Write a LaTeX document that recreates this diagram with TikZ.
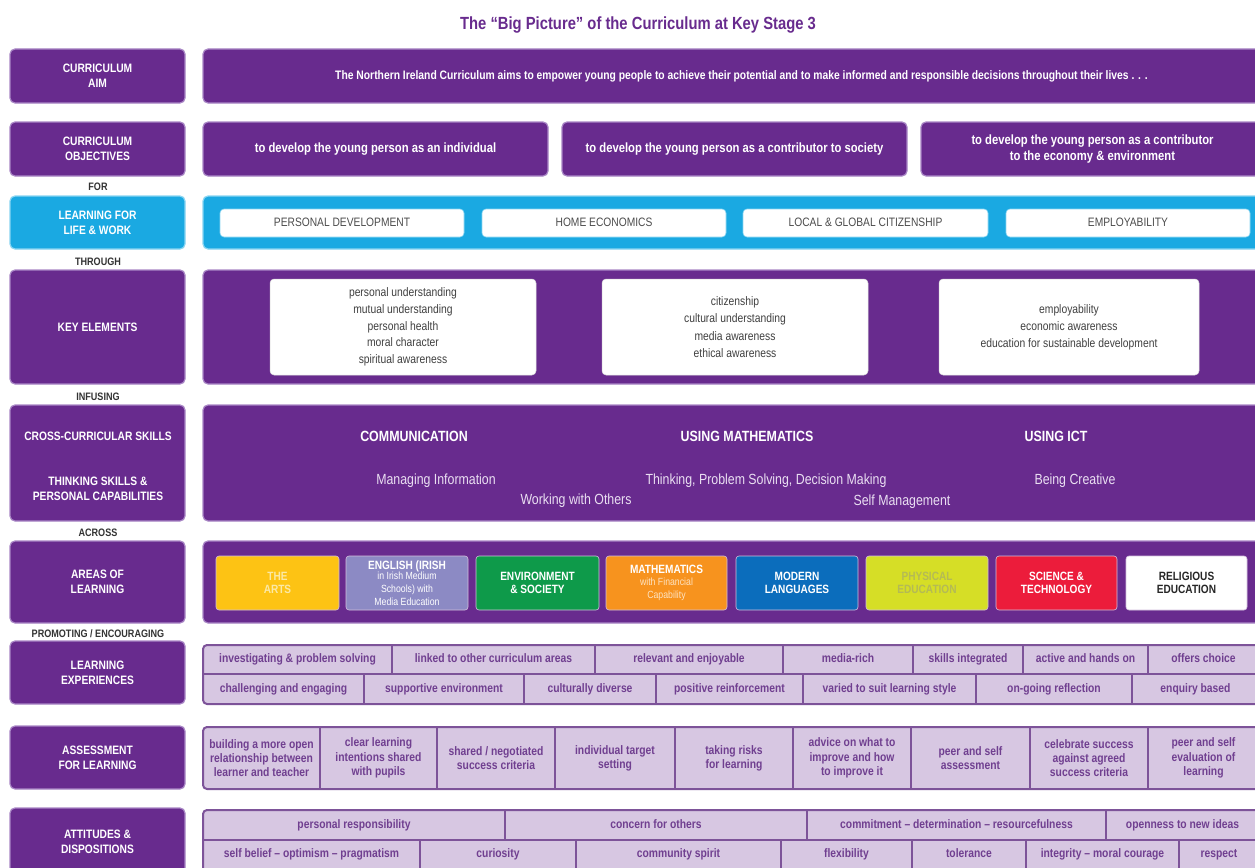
\documentclass[tikz,border=0pt]{standalone}
\usepackage{fontspec}
\setmainfont{Liberation Sans}[FakeStretch=0.84]
\definecolor{pur}{HTML}{682B8E}
\definecolor{purEdge}{HTML}{A987C6}
\definecolor{cyanbox}{HTML}{1AA9E2}
\definecolor{cyanEdge}{HTML}{8AD5F2}
\definecolor{cellfill}{HTML}{D7C7E2}
\definecolor{celldraw}{HTML}{7D5399}
\definecolor{celltext}{HTML}{703F90}
\definecolor{linkword}{HTML}{333333}
\definecolor{arts}{HTML}{FDC314}
\definecolor{artstext}{HTML}{FBE9A6}
\definecolor{english}{HTML}{8C8AC4}
\definecolor{envir}{HTML}{0E9A4A}
\definecolor{maths}{HTML}{F7931E}
\definecolor{mathsub}{HTML}{FDE3C2}
\definecolor{modlang}{HTML}{0B6DBC}
\definecolor{phys}{HTML}{D6DE26}
\definecolor{phystext}{HTML}{B4BA55}
\definecolor{science}{HTML}{EC1C3B}
\definecolor{skilltext}{HTML}{EADFF2}
\newcommand\setfs[2]{\fontsize{#1}{#2}\selectfont}
\newcommand\subfnt{\mdseries\setfs{10.4}{11.4}}
% box from corners: [style]{x1}{y1}{x2}{y2}{name}{text}
\newcommand\mkbox[7][]{\node[#1, anchor=north west, minimum width={(#4-#2)*1pt}, minimum height={(#5-#3)*1pt}] (#6) at (#2,#3) {#7};}
\tikzset{
  base/.style={inner sep=0pt, outer sep=0pt, align=center},
  purbox/.style={base, rounded corners=5pt, fill=pur, draw=purEdge, line width=1.2pt, text=white},
  cyanbx/.style={base, rounded corners=5pt, fill=cyanbox, draw=cyanEdge, line width=1.2pt, text=white},
  lab/.style={font=\bfseries\setfs{12.2}{15}},
  whitebox/.style={base, rounded corners=4pt, fill=white, draw=white!85!black, line width=0.5pt, text=black!75, font=\setfs{12.3}{13}},
  lifebox/.style={base, rounded corners=4pt, fill=white, draw=cyanEdge, line width=0.6pt, text=black!70, font=\setfs{12.2}{13}, text height=9pt, text depth=2.5pt},
  area/.style={base, rounded corners=3pt, line width=0.6pt, draw=white!70!pur, font=\bfseries\setfs{12}{13}},
  cell/.style={base, fill=cellfill, draw=celldraw, line width=1.1pt, text=celltext, font=\bfseries\setfs{12.3}{14.2}},
  onecell/.style={cell, text height=9pt, text depth=2.5pt},
  linkw/.style={base, text=linkword, font=\bfseries\setfs{10.8}{12}},
  skill/.style={base, text=white, font=\bfseries\setfs{14.8}{16}},
  capline/.style={base, text=skilltext, font=\setfs{14.7}{16}},
  tborder/.style={rounded corners=4pt, draw=celldraw, line width=2pt}
}
\begin{document}
\begin{tikzpicture}[x=1pt,y=-1pt]
\useasboundingbox (0,0) rectangle (1255,867);
\fill[white] (0,0) rectangle (1255,867);

% title
\node[base, text=pur, font=\bfseries\setfs{17.6}{19}] (title) at (638,25) {The “Big Picture” of the Curriculum at Key Stage 3};

% row 1: aim
\mkbox[purbox, lab]{10}{49}{185}{103}{aimL}{CURRICULUM\\AIM}
\mkbox[purbox, font=\bfseries\setfs{12.3}{14}]{203}{49}{1264}{103}{aimR}{\hspace*{16pt}The Northern Ireland Curriculum aims to empower young people to achieve their potential and to make informed and responsible decisions throughout their lives . . .}

% row 2: objectives
\mkbox[purbox, lab]{10}{122}{185}{176}{objL}{CURRICULUM\\OBJECTIVES}
\mkbox[purbox, font=\bfseries\setfs{13.4}{15.5}]{203}{122}{548}{176}{obj1}{to develop the young person as an individual}
\mkbox[purbox, font=\bfseries\setfs{13.4}{15.5}]{562}{122}{907}{176}{obj2}{to develop the young person as a contributor to society}
\mkbox[purbox, font=\bfseries\setfs{13.4}{15.5}]{921}{122}{1264}{176}{obj3}{to develop the young person as a contributor\\to the economy \& environment}

\node[linkw] (wFor) at (98,187) {FOR};

% row 3: learning for life and work
\mkbox[cyanbx, lab]{10}{196}{185}{249}{lflwL}{LEARNING FOR\\LIFE \& WORK}
\mkbox[cyanbx]{203}{196}{1264}{249}{lflwR}{}
\mkbox[lifebox]{220}{209}{464}{237}{pd}{PERSONAL DEVELOPMENT}
\mkbox[lifebox]{482}{209}{726}{237}{he}{HOME ECONOMICS}
\mkbox[lifebox]{743}{209}{988}{237}{lgc}{LOCAL \& GLOBAL CITIZENSHIP}
\mkbox[lifebox]{1006}{209}{1250}{237}{emp}{EMPLOYABILITY}

\node[linkw] (wThrough) at (98,262) {THROUGH};

% row 4: key elements
\mkbox[purbox, lab]{10}{270}{185}{384}{keL}{KEY ELEMENTS}
\mkbox[purbox]{203}{270}{1264}{384}{keR}{}
\mkbox[whitebox, font=\setfs{12.3}{16.8}]{270}{279}{536}{375}{ke1}{personal understanding\\mutual understanding\\personal health\\moral character\\spiritual awareness}
\mkbox[whitebox, font=\setfs{12.3}{17.3}]{602}{279}{868}{375}{ke2}{citizenship\\cultural understanding\\media awareness\\ethical awareness}
\mkbox[whitebox, font=\setfs{12.3}{17}]{939}{279}{1199}{375}{ke3}{employability\\economic awareness\\education for sustainable development}

\node[linkw] (wInfusing) at (98,397) {INFUSING};

% row 5: skills
\mkbox[purbox]{10}{405}{185}{521}{skL}{}
\node[base, text=white, lab] (ccs) at (98,436) {CROSS-CURRICULAR SKILLS};
\node[base, text=white, lab] (tspc) at (98,489) {THINKING SKILLS \&\\PERSONAL CAPABILITIES};
\mkbox[purbox]{203}{405}{1264}{521}{skR}{}
\node[skill] (comm) at (414,436) {COMMUNICATION};
\node[skill] (umath) at (747,436) {USING MATHEMATICS};
\node[skill] (uict) at (1056,436) {USING ICT};
\node[capline] (mi) at (436,481) {Managing Information};
\node[capline] (tps) at (766,481) {Thinking, Problem Solving, Decision Making};
\node[capline] (bc) at (1075,481) {Being Creative};
\node[capline] (wwo) at (576,501) {Working with Others};
\node[capline] (sm) at (902,502) {Self Management};

\node[linkw] (wAcross) at (98,533) {ACROSS};

% row 6: areas of learning
\mkbox[purbox, lab]{10}{541}{185}{623}{aolL}{AREAS OF\\LEARNING}
\mkbox[purbox]{203}{541}{1264}{623}{aolR}{}
\mkbox[area, fill=arts, text=artstext]{216}{556}{339}{610}{arts}{THE\\ARTS}
\mkbox[area, fill=english, text=white]{346}{556}{468}{610}{engl}{ENGLISH (IRISH\\[-2.5pt]\subfnt in Irish Medium\\\subfnt Schools) with\\\subfnt Media Education}
\mkbox[area, fill=envir, text=white]{476}{556}{599}{610}{envs}{ENVIRONMENT\\\& SOCIETY}
\mkbox[area, fill=maths, text=white]{606}{556}{727}{610}{math}{MATHEMATICS\\[-1.5pt]\subfnt\color{mathsub}with Financial\\\subfnt\color{mathsub}Capability}
\mkbox[area, fill=modlang, text=white]{736}{556}{858}{610}{modl}{MODERN\\LANGUAGES}
\mkbox[area, fill=phys, text=phystext]{866}{556}{988}{610}{phed}{PHYSICAL\\EDUCATION}
\mkbox[area, fill=science, text=white]{996}{556}{1117}{610}{scit}{SCIENCE \&\\TECHNOLOGY}
\mkbox[area, fill=white, text=black!85]{1126}{556}{1247}{610}{relg}{RELIGIOUS\\EDUCATION}

\node[linkw] (wPromo) at (98,634) {PROMOTING / ENCOURAGING};

% row 7: learning experiences
\mkbox[purbox, lab]{10}{641}{185}{704}{leL}{LEARNING\\EXPERIENCES}
\begin{scope}
\clip[rounded corners=4pt] (203,645) rectangle (1262,704);
\mkbox[onecell]{203}{645}{392}{674}{le1}{investigating \& problem solving}
\mkbox[onecell]{392}{645}{595}{674}{le2}{linked to other curriculum areas}
\mkbox[onecell]{595}{645}{783}{674}{le3}{relevant and enjoyable}
\mkbox[onecell]{783}{645}{913}{674}{le4}{media-rich}
\mkbox[onecell]{913}{645}{1023}{674}{le5}{skills integrated}
\mkbox[onecell]{1023}{645}{1148}{674}{le6}{active and hands on}
\mkbox[onecell]{1148}{645}{1259}{674}{le7}{offers choice}
\mkbox[onecell]{203}{674}{364}{704}{le8}{challenging and engaging}
\mkbox[onecell]{364}{674}{524}{704}{le9}{supportive environment}
\mkbox[onecell]{524}{674}{656}{704}{le10}{culturally diverse}
\mkbox[onecell]{656}{674}{803}{704}{le11}{positive reinforcement}
\mkbox[onecell]{803}{674}{976}{704}{le12}{varied to suit learning style}
\mkbox[onecell]{976}{674}{1132}{704}{le13}{on-going reflection}
\mkbox[onecell]{1132}{674}{1259}{704}{le14}{enquiry based}
\end{scope}
\draw[tborder] (203,645) rectangle (1262,704);

% row 8: assessment for learning
\mkbox[purbox, lab]{10}{726}{185}{789}{aflL}{ASSESSMENT\\FOR LEARNING}
\begin{scope}
\clip[rounded corners=4pt] (203,727) rectangle (1262,789);
\mkbox[cell]{203}{727}{320}{789}{af1}{building a more open\\relationship between\\learner and teacher}
\mkbox[cell]{320}{727}{437}{789}{af2}{clear learning\\intentions shared\\with pupils}
\mkbox[cell]{437}{727}{555}{789}{af3}{shared / negotiated\\success criteria}
\mkbox[cell]{555}{727}{675}{789}{af4}{individual target\\setting}
\mkbox[cell]{675}{727}{793}{789}{af5}{taking risks\\for learning}
\mkbox[cell]{793}{727}{911}{789}{af6}{advice on what to\\improve and how\\to improve it}
\mkbox[cell]{911}{727}{1030}{789}{af7}{peer and self\\assessment}
\mkbox[cell]{1030}{727}{1148}{789}{af8}{celebrate success\\against agreed\\success criteria}
\mkbox[cell]{1148}{727}{1259}{789}{af9}{peer and self\\evaluation of\\learning}
\end{scope}
\draw[tborder] (203,727) rectangle (1262,789);

% row 9: attitudes and dispositions
\mkbox[purbox, lab]{10}{808}{185}{876}{adL}{ATTITUDES \&\\DISPOSITIONS}
\begin{scope}
\clip[rounded corners=4pt] (203,810) rectangle (1262,880);
\mkbox[onecell]{203}{810}{505}{840}{ad1}{personal responsibility}
\mkbox[onecell]{505}{810}{807}{840}{ad2}{concern for others}
\mkbox[onecell]{807}{810}{1106}{840}{ad3}{commitment – determination – resourcefulness}
\mkbox[onecell]{1106}{810}{1259}{840}{ad4}{openness to new ideas}
\mkbox[onecell]{203}{840}{420}{869}{ad5}{self belief – optimism – pragmatism}
\mkbox[onecell]{420}{840}{576}{869}{ad6}{curiosity}
\mkbox[onecell]{576}{840}{781}{869}{ad7}{community spirit}
\mkbox[onecell]{781}{840}{912}{869}{ad8}{flexibility}
\mkbox[onecell]{912}{840}{1026}{869}{ad9}{tolerance}
\mkbox[onecell]{1026}{840}{1179}{869}{ad10}{integrity – moral courage}
\mkbox[onecell]{1179}{840}{1259}{869}{ad11}{respect}
\end{scope}
\draw[tborder] (203,810) rectangle (1262,880);
\end{tikzpicture}
\end{document}
